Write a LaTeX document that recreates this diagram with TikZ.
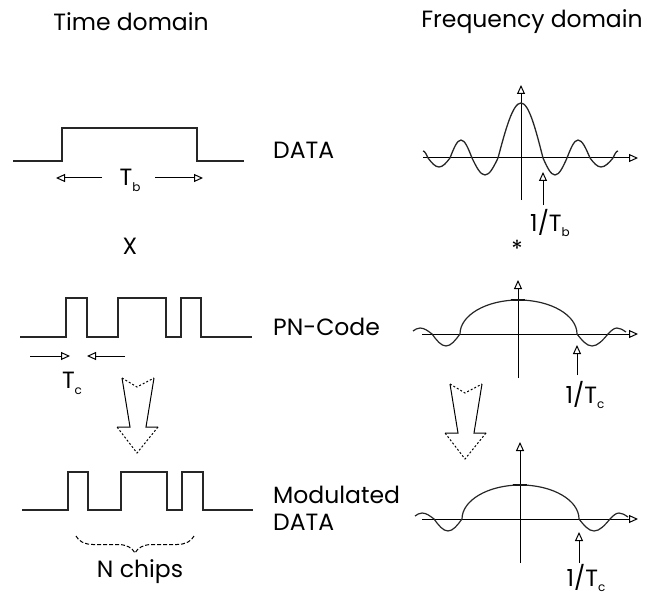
\documentclass[tikz,border=0pt]{standalone}
\usepackage{fontspec}
\setmainfont{Poppins}
\usetikzlibrary{arrows.meta,decorations.pathreplacing}
\newcommand\lowsub[1]{\raisebox{-0.45ex}{\fontsize{12}{12}\selectfont #1}}
\begin{document}
\begin{tikzpicture}[x=1pt,y=-1pt,
  wave/.style={line width=1.6pt, line join=miter, draw=black!85},
  curve/.style={line width=1.2pt, draw=black!85},
  axis/.style={line width=1.1pt},
  tipped/.style={-{Triangle[open,length=9pt,width=8pt]}, line width=1pt},
  lbl/.style={font=\fontsize{23.5}{27}\selectfont, inner sep=0pt},
  hollow/.style={line width=1pt},
  hollowdash/.style={line width=1pt, dash pattern=on 2pt off 2pt}
]
\useasboundingbox (0,0) rectangle (650,596);

% headings
\node[lbl] (td) at (131,22) {Time domain};
\node[lbl] (fd) at (532,22) {Frequency domain};

% row labels
\node[lbl, anchor=west] (data) at (273,150) {DATA};
\node[lbl, anchor=west] (pn) at (273,327) {PN-Code};
\node[lbl, anchor=west, align=left] (mod) at (273,508) {Modulated\\DATA};
\node[lbl] (x) at (130,246) {X};
\node[lbl] (star) at (517,249) {*};

% time-domain waveforms
\draw[wave] (13,161) -- (62,161) -- (62,128) -- (197,128) -- (197,161) -- (244,161);
\draw[wave] (20,337) -| (66,298) -| (87,337) -| (118,298) -| (166,337) -| (181,298) -| (201,337) -- (252,337);
\draw[wave] (22,510) -| (68,472) -| (88,510) -| (121,472) -| (167,510) -| (182,472) -| (203,510) -- (253,510);

% Tb
\node[lbl] (tb) at (130,180) {T\lowsub{b}};
\coordinate (tbl0) at (102,178); \coordinate (tbl1) at (56,178);
\coordinate (tbr0) at (155,178); \coordinate (tbr1) at (203,178);
\draw[tipped] (tbl0) -- (tbl1);
\draw[tipped] (tbr0) -- (tbr1);

% Tc
\node[lbl] (tc) at (72,383) {T\lowsub{c}};
\coordinate (tcl0) at (30,356); \coordinate (tcl1) at (70,356);
\coordinate (tcr0) at (125,356); \coordinate (tcr1) at (87,356);
\draw[tipped] (tcl0) -- (tcl1);
\draw[tipped] (tcr0) -- (tcr1);

% big hollow arrows
\foreach \sx/\sy in {0/0, 328/6}{
  \begin{scope}[shift={(\sx,\sy)}]
    \draw[hollowdash] (122,378) -- (137,387) -- (154,378);
    \draw[hollow] (154,378) -- (146,427) -- (158,427);
    \draw[hollowdash] (158,427) -- (137,453) -- (117,427);
    \draw[hollow] (117,427) -- (130,427) -- (122,378);
  \end{scope}
}

% brace
\draw[line width=1pt, dash pattern=on 4pt off 2pt, decorate, decoration={brace, mirror, amplitude=17pt}] (76,536) -- (194,536);
\node[lbl] (nchips) at (140,572) {N chips};

% frequency plot 1
\draw[axis,tipped] (521,200) -- (521,85);
\draw[axis,tipped] (423,158) -- (638,158);
\draw[wave, line width=1.3pt] (423,151) cos (428,158) sin (439,167) cos (450,158) sin (461,140) cos (472,158) sin (485,175) cos (498,158) sin (521,103) cos (543,158) sin (555,175) cos (567,158) sin (578,140) cos (590,158) sin (601,167) cos (613,158) sin (618,151);
\coordinate (m1a) at (543,205); \coordinate (m1b) at (543,172);
\draw[tipped] (m1a) -- (m1b);
\node[lbl] (ftb) at (550,223) {1/T\lowsub{b}};

% frequency plot 2
\draw[axis,tipped] (518,378) -- (518,280);
\draw[axis,tipped] (422,334) -- (638,334);
\draw[axis] (511,300) -- (525,300);
\draw[curve] (413,331) sin (420,328) cos (432,334) sin (446,346) cos (460,334) arc[start angle=180, end angle=360, x radius=58.5, y radius=34] sin (592,346) cos (608,334) sin (617,328) cos (626,332);
\coordinate (m2a) at (577,375); \coordinate (m2b) at (577,345);
\draw[tipped] (m2a) -- (m2b);
\node[lbl] (ftc1) at (585,395) {1/T\lowsub{c}};

% frequency plot 3
\draw[axis,tipped] (520,563) -- (520,442);
\draw[axis,tipped] (422,519) -- (638,519);
\begin{scope}[shift={(2,185)}]
\draw[axis] (511,300) -- (525,300);
\draw[curve] (413,331) sin (420,328) cos (432,334) sin (446,346) cos (460,334) arc[start angle=180, end angle=360, x radius=58.5, y radius=34] sin (592,346) cos (608,334) sin (617,328) cos (626,332);
\coordinate (m3a) at (577,378); \coordinate (m3b) at (577,347);
\draw[tipped] (m3a) -- (m3b);
\end{scope}
\node[lbl] (ftc2) at (586,578) {1/T\lowsub{c}};
\end{tikzpicture}
\end{document}
